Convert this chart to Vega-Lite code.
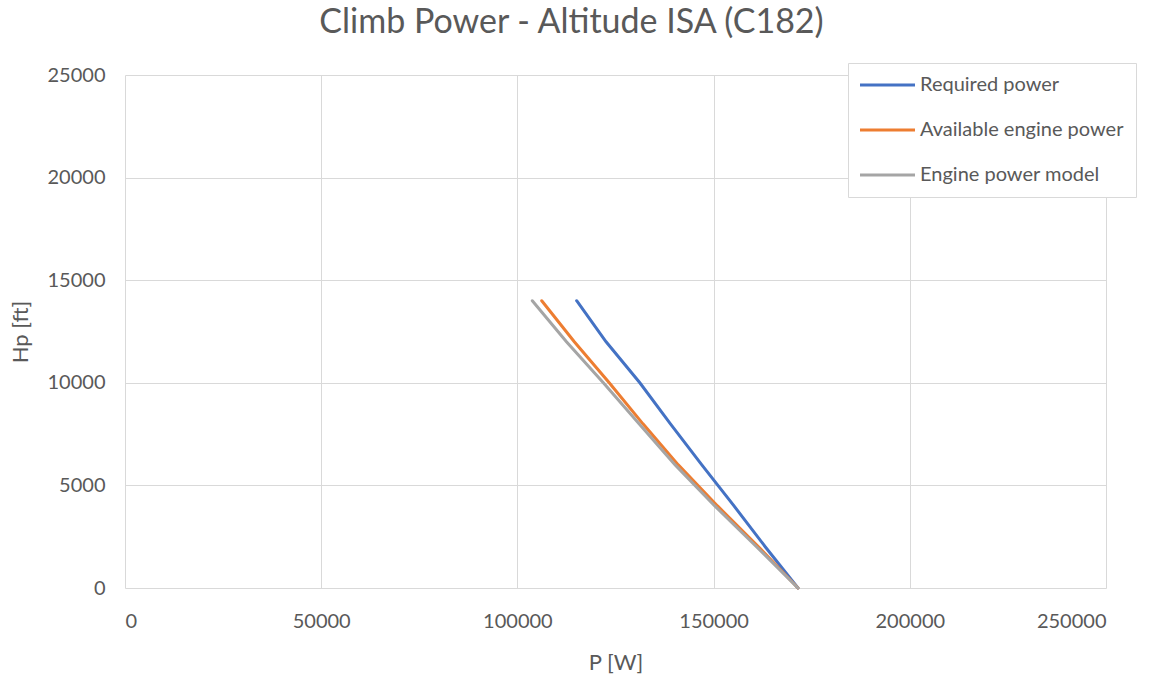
{
  "$schema": "https://vega.github.io/schema/vega-lite/v6.json",
  "autosize": {"type": "none"},
  "width": 981,
  "height": 513,
  "padding": {"left": 125, "top": 75, "right": 51, "bottom": 88},
  "background": "white",
  "title": {
    "text": "Climb Power - Altitude ISA (C182)",
    "font": "Lato",
    "fontSize": 34,
    "fontWeight": "normal",
    "color": "#595959",
    "anchor": "middle",
    "frame": "group",
    "dx": -44,
    "offset": 23
  },
  "data": {
    "values": [
      {"series": "Required power", "Hp": 0, "P": 171500},
      {"series": "Required power", "Hp": 2000, "P": 163200},
      {"series": "Required power", "Hp": 4000, "P": 155200},
      {"series": "Required power", "Hp": 6000, "P": 147000},
      {"series": "Required power", "Hp": 8000, "P": 139000},
      {"series": "Required power", "Hp": 10000, "P": 131200},
      {"series": "Required power", "Hp": 12000, "P": 122600},
      {"series": "Required power", "Hp": 14000, "P": 115100},
      {"series": "Available engine power", "Hp": 0, "P": 171500},
      {"series": "Available engine power", "Hp": 2000, "P": 161500},
      {"series": "Available engine power", "Hp": 4000, "P": 151000},
      {"series": "Available engine power", "Hp": 6000, "P": 141000},
      {"series": "Available engine power", "Hp": 8000, "P": 132000},
      {"series": "Available engine power", "Hp": 10000, "P": 123400},
      {"series": "Available engine power", "Hp": 12000, "P": 114500},
      {"series": "Available engine power", "Hp": 14000, "P": 106200},
      {"series": "Engine power model", "Hp": 0, "P": 171500},
      {"series": "Engine power model", "Hp": 2000, "P": 161000},
      {"series": "Engine power model", "Hp": 4000, "P": 150300},
      {"series": "Engine power model", "Hp": 6000, "P": 140200},
      {"series": "Engine power model", "Hp": 8000, "P": 131000},
      {"series": "Engine power model", "Hp": 10000, "P": 121900},
      {"series": "Engine power model", "Hp": 12000, "P": 112500},
      {"series": "Engine power model", "Hp": 14000, "P": 103800}
    ]
  },
  "mark": {"type": "line", "strokeWidth": 3, "strokeCap": "round"},
  "encoding": {
    "x": {
      "field": "P", "type": "quantitative",
      "scale": {"domain": [0, 250000], "nice": false},
      "axis": {
        "title": "P [W]", "values": [0, 50000, 100000, 150000, 200000, 250000],
        "format": "d", "grid": true, "gridColor": "#d9d9d9", "gridWidth": 1,
        "domain": false, "ticks": false,
        "labelFont": "Lato", "labelFontSize": 20, "labelColor": "#595959", "labelPadding": 23,
        "titleFont": "Lato", "titleFontSize": 22, "titleFontWeight": "normal", "titleColor": "#595959", "titlePadding": 21
      }
    },
    "y": {
      "field": "Hp", "type": "quantitative",
      "scale": {"domain": [0, 25000], "nice": false},
      "axis": {
        "title": "Hp [ft]", "values": [0, 5000, 10000, 15000, 20000, 25000],
        "format": "d", "grid": true, "gridColor": "#d9d9d9", "gridWidth": 1,
        "domain": false, "ticks": false,
        "labelFont": "Lato", "labelFontSize": 20, "labelColor": "#595959", "labelPadding": 20,
        "titleFont": "Lato", "titleFontSize": 22, "titleFontWeight": "normal", "titleColor": "#595959", "titlePadding": 15
      }
    },
    "color": {
      "field": "series", "type": "nominal",
      "scale": {
        "domain": ["Required power", "Available engine power", "Engine power model"],
        "range": ["#4472C4", "#ED7D31", "#A5A5A5"]
      },
      "legend": {
        "title": null, "orient": "none", "legendX": 723, "legendY": -12,
        "symbolType": "M-5.5,0H5.5", "symbolSize": 100, "symbolStrokeWidth": 3,
        "symbolOffset": 17.5,
        "labelFont": "Lato", "labelFontSize": 20, "labelColor": "#595959", "labelOffset": 22.5,
        "labelLimit": 400,
        "rowPadding": 25, "padding": 12,
        "fillColor": "white", "strokeColor": "#d9d9d9"
      }
    },
    "order": {"field": "Hp", "type": "quantitative"}
  },
  "config": {"view": {"stroke": null}}
}
